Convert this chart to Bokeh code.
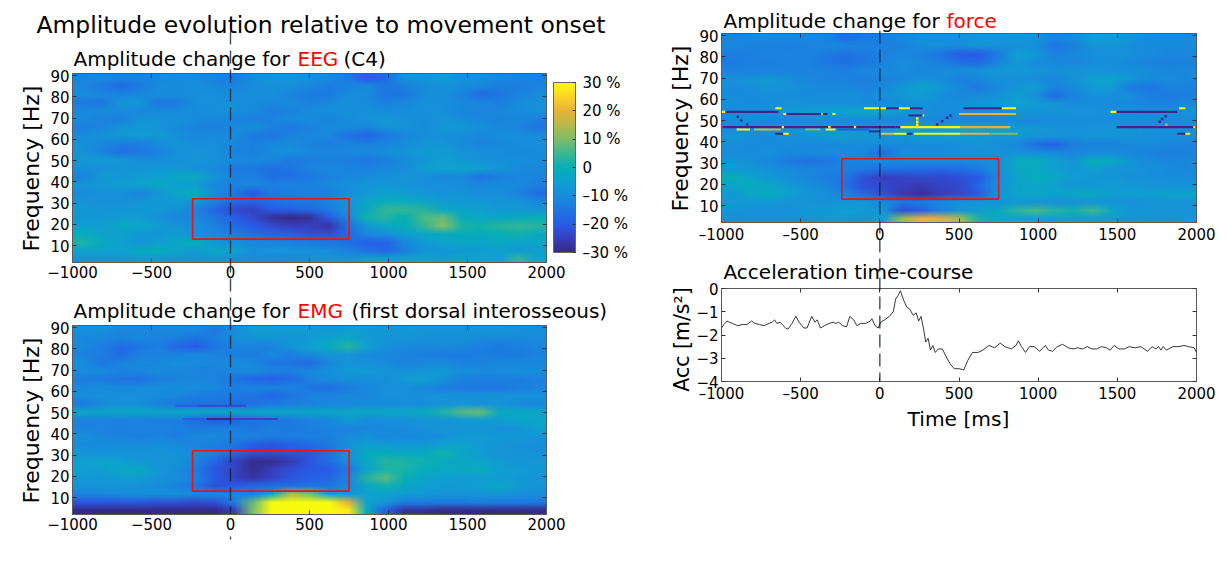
import base64
import math
import struct
import zlib
import numpy as np
from bokeh.embed import file_html
from bokeh.resources import INLINE
from bokeh.plotting import figure
from bokeh.models import (ColorBar, ColumnDataSource, FixedTicker, Label,
                          LinearAxis, LinearColorMapper, Range1d)
from bokeh.transform import transform

time_ticks = [-1000, -500, 0, 500, 1000, 1500, 2000]
freq_ticks = [10, 20, 30, 40, 50, 60, 70, 80, 90]
acc_ticks = [-4, -3, -2, -1, 0]
cbar_ticks = [-30, -20, -10, 0, 10, 20, 30]
cbar_labels = ["–30 %", "–20 %", "–10 %", "0", "10 %", "20 %", "30 %"]
box_t = [-240, 750]
box_f = [13, 32]

eeg_rows = [
 [-12,-11,-12,-12,-11,-10,-10,-12,-14,-9,-8,-8,-9,-11,-14,-20,-17,-8,-8,-6,-9,-9,-11,-12,-13],
 [-11,-14,-17,-14,-10,-10,-9,-11,-12,-10,-9,-9,-11,-13,-12,-11,-14,-13,-10,-9,-9,-11,-13,-13,-12],
 [-10,-11,-12,-11,-10,-10,-9,-9,-10,-9,-9,-12,-14,-14,-10,-10,-15,-15,-10,-9,-12,-17,-15,-12,-10],
 [-14,-15,-8,-7,-15,-14,-9,-9,-9,-10,-11,-10,-12,-11,-9,-10,-13,-11,-9,-9,-11,-11,-13,-10,-9],
 [-11,-10,-10,-11,-11,-10,-10,-9,-9,-10,-13,-12,-10,-9,-9,-9,-10,-10,-9,-9,-11,-12,-11,-10,-9],
 [-10,-12,-13,-9,-8,-9,-10,-11,-12,-13,-12,-10,-10,-12,-10,-8,-7,-9,-10,-8,-10,-11,-12,-11,-13],
 [-13,-12,-8,-7,-8,-10,-12,-13,-11,-9,-12,-14,-12,-10,-10,-11,-8,-8,-10,-7,-7,-9,-11,-12,-15],
 [-10,-8,-7,-6,-7,-9,-11,-10,-10,-14,-15,-12,-11,-11,-16,-18,-15,-11,-9,-9,-10,-11,-10,-9,-10],
 [-9,-11,-13,-13,-10,-8,-10,-9,-11,-13,-11,-10,-12,-13,-12,-13,-12,-10,-8,-8,-10,-12,-11,-10,-9],
 [-8,-12,-16,-15,-12,-9,-8,-9,-12,-13,-10,-9,-11,-11,-11,-10,-9,-8,-7,-6,-8,-9,-10,-11,-10],
 [-7,-6,-7,-9,-10,-9,-8,-9,-10,-11,-11,-14,-13,-12,-13,-15,-13,-10,-8,-5,-7,-9,-9,-9,-10],
 [-9,-9,-8,-8,-7,-7,-9,-10,-14,-14,-16,-15,-12,-11,-12,-12,-11,-10,-6,-5,-4,-5,-8,-10,-11],
 [-12,-7,-7,-6,-5,-3,-2,-8,-13,-13,-16,-16,-14,-12,-11,-10,-9,-8,-9,-11,-11,-15,-13,-11,-12],
 [-8,-7,-6,-4,-3,-5,-6,-11,-12,-11,-13,-12,-13,-11,-9,-8,-7,-8,-9,-9,-10,-11,-10,-11,-13],
 [-10,-9,-9,-12,-8,-3,-1,-10,-15,-20,-14,-13,-12,-13,-9,-7,-5,-6,-7,-9,-8,-10,-9,-12,-17],
 [-8,-9,-9,-8,-7,-6,-6,-12,-17,-18,-16,-14,-14,-12,-8,-4,-1,-1,-4,-6,-7,-7,-8,-8,-11],
 [-7,-8,-8,-7,-7,-9,-12,-18,-23,-24,-20,-19,-17,-14,-8,-2,4,4,3,-3,-4,-5,-7,-7,-8],
 [-7,-7,-6,-6,-9,-11,-11,-15,-19,-23,-28,-31,-28,-20,-11,1,3,0,6,8,-1,-3,-3,-2,0],
 [-5,-6,-3,-3,-6,-8,-9,-12,-17,-20,-23,-25,-25,-27,-16,-7,-3,-1,4,11,2,1,3,4,3],
 [-1,-4,-5,-7,-7,-6,-9,-11,-13,-16,-18,-19,-22,-22,-17,-11,-9,-5,-3,-2,-1,-1,0,1,-2],
 [2,-1,-5,-8,-6,-3,0,-7,-10,-11,-12,-13,-14,-15,-16,-19,-18,-11,-7,-4,-3,-3,-2,-4,-3],
 [-4,-4,-5,-2,-1,-4,-6,-3,-5,-9,-8,-8,-9,-10,-12,-16,-18,-13,-8,-7,-7,-6,-5,-7,-6],
 [-8,-8,-8,-7,-7,-8,-8,-7,-9,-10,-11,-10,-9,-8,-8,-6,-4,-5,-5,-6,-3,-3,-4,4,-2],
]

emg_rows = [
 [-9,-9,-11,-11,-11,-10,-11,-14,-10,-6,-6,-6,-6,-7,-6,-6,-7,-7,-8,-8,-8,-8,-8,-9,-9],
 [-11,-11,-12,-11,-12,-13,-15,-13,-9,-8,-7,-8,-6,-5,-3,-6,-8,-8,-9,-9,-9,-10,-10,-10,-10],
 [-11,-13,-17,-15,-13,-18,-20,-15,-12,-12,-12,-8,-5,-1,3,-5,-9,-10,-11,-10,-11,-13,-14,-13,-12],
 [-12,-13,-17,-13,-12,-12,-11,-12,-13,-14,-11,-13,-10,-8,-8,-10,-11,-12,-13,-14,-14,-13,-14,-14,-12],
 [-9,-15,-12,-11,-11,-9,-10,-11,-10,-11,-15,-15,-17,-11,-8,-9,-10,-12,-11,-10,-12,-12,-11,-11,-11],
 [-10,-10,-12,-11,-10,-11,-12,-12,-11,-10,-12,-13,-11,-9,-7,-6,-8,-9,-8,-7,-9,-10,-10,-9,-9],
 [-13,-14,-15,-16,-13,-12,-11,-12,-15,-18,-19,-17,-12,-10,-9,-9,-9,-6,-5,-8,-12,-13,-13,-13,-12],
 [-11,-10,-11,-10,-10,-9,-10,-11,-13,-12,-12,-12,-15,-16,-14,-11,-9,-9,-11,-13,-14,-15,-15,-13,-12],
 [-9,-9,-9,-9,-10,-11,-13,-14,-14,-15,-18,-15,-12,-12,-11,-11,-9,-9,-9,-8,-9,-9,-8,-9,-9],
 [-14,-11,-9,-9,-12,-15,-16,-15,-16,-16,-14,-13,-12,-11,-11,-10,-10,-10,-9,-9,-8,-9,-8,-10,-11],
 [-3,-3,-3,-3,-3,-3,-3,-3,-3,-3,-3,-3,-3,-3,-3,-3,-3,-3,-2,2,7,8,-2,-3,-3],
 [-12,-12,-12,-12,-13,-13,-16,-20,-18,-16,-15,-14,-12,-11,-7,-10,-9,-9,-8,-8,-7,-6,-6,-4,-3],
 [-12,-12,-13,-12,-12,-13,-14,-13,-13,-15,-13,-14,-13,-12,-12,-11,-11,-10,-9,-8,-8,-8,-9,-8,-5],
 [-9,-11,-12,-13,-12,-13,-11,-11,-12,-12,-14,-13,-13,-13,-10,-9,-11,-11,-10,-9,-7,-6,-7,-7,-8],
 [-10,-10,-9,-10,-9,-10,-12,-13,-15,-20,-21,-19,-17,-14,-9,-5,-6,-7,-7,-5,-4,-6,-8,-9,-10],
 [-8,-9,-8,-8,-8,-9,-10,-13,-18,-22,-22,-21,-21,-16,-9,-1,-1,-3,-2,1,-3,-6,-8,-8,-9],
 [-5,-4,-5,-7,-8,-8,-12,-18,-24,-29,-29,-26,-21,-16,-10,-2,3,2,1,-1,-3,-4,-6,-8,-8],
 [-5,-6,-3,-2,-7,-10,-14,-21,-24,-29,-25,-22,-20,-20,-14,-4,2,2,-1,-2,-2,-1,-5,-6,-7],
 [-7,-7,-6,-6,-8,-10,-13,-20,-24,-27,-24,-21,-19,-18,-12,3,7,0,-4,-5,-6,-6,-6,-7,-8],
 [-8,-8,-8,-9,-10,-12,-15,-22,-20,-18,-16,-16,-15,-15,-11,-3,1,-3,-5,-6,-6,-5,-3,-6,-8],
 [-12,-11,-10,-9,-9,-9,-10,-10,-11,-12,-2,15,10,-5,-7,-5,-4,-6,-7,-8,-8,-8,-8,-9,-10],
 [-21,-21,-21,-21,-22,-22,-23,-22,-14,8,30,32,30,32,20,-4,-8,-14,-14,-14,-14,-13,-14,-14,-15],
 [-31,-31,-31,-31,-31,-31,-31,-31,-25,10,36,40,40,36,28,-2,-20,-28,-28,-30,-30,-30,-30,-30,-30],
]

force_rows = [
 [-12,-11,-11,-11,-11,-12,-17,-15,-13,-11,-9,-9,-9,-8,-8,-7,-8,-12,-10,-5,-6,-8,-10,-10,-10],
 [-11,-12,-12,-13,-12,-11,-11,-12,-13,-12,-10,-9,-10,-8,-9,-9,-9,-15,-13,-8,-8,-9,-10,-11,-10],
 [-13,-13,-12,-12,-12,-14,-16,-14,-12,-11,-12,-15,-20,-20,-14,-5,-7,-12,-11,-9,-9,-9,-10,-11,-11],
 [-14,-13,-13,-12,-12,-15,-16,-15,-12,-10,-11,-13,-16,-17,-12,-7,-10,-11,-12,-10,-9,-11,-12,-13,-12],
 [-12,-12,-12,-12,-12,-12,-13,-11,-11,-10,-11,-10,-9,-9,-7,-7,-8,-9,-8,-8,-9,-9,-10,-11,-11],
 [-9,-8,-7,-9,-11,-12,-12,-13,-12,-11,-9,-10,-13,-11,-9,-9,-10,-11,-9,-5,-4,-7,-10,-10,-11],
 [-10,-9,-8,-8,-10,-11,-11,-12,-11,-7,-4,-7,-11,-14,-10,-8,-6,-12,-10,-6,-6,-14,-15,-12,-12],
 [-10,-10,-9,-10,-10,-10,-9,-10,-9,-7,-6,-9,-11,-10,-9,-6,-9,-17,-12,-9,-9,-10,-13,-14,-13],
 [-9,-10,-10,-8,-9,-9,-9,-10,-11,-10,-9,-9,-9,-8,-7,-4,-6,-8,-10,-10,-10,-11,-12,-12,-11],
 [-10,-9,-9,-7,-5,-5,-4,-3,-4,-7,-8,-10,-10,-10,-9,-8,-8,-8,-8,-8,-9,-9,-10,-9,-8],
 [-10,-10,-11,-11,-10,-10,-10,-10,-11,-11,-11,-11,-11,-11,-11,-11,-11,-11,-10,-10,-10,-10,-10,-10,-10],
 [-10,-10,-9,-8,-7,-7,-6,-7,-6,-5,-5,-4,-4,-4,-5,-6,-7,-8,-9,-8,-7,-8,-9,-9,-9],
 [-8,-9,-10,-9,-8,-7,-6,-7,-8,-7,-6,-6,-6,-7,-8,-7,-8,-8,-9,-8,-8,-8,-9,-9,-9],
 [-9,-10,-10,-10,-11,-11,-10,-10,-10,-11,-10,-10,-9,-8,-9,-11,-16,-19,-13,-12,-12,-11,-10,-11,-12],
 [-10,-10,-9,-11,-10,-10,-10,-12,-17,-10,-10,-10,-9,-9,-9,-8,-9,-10,-11,-10,-10,-11,-12,-13,-12],
 [-8,-9,-11,-14,-16,-15,-12,-11,-10,-10,-10,-10,-10,-10,-10,-1,0,-5,-8,0,-2,-8,-10,-11,-11],
 [-7,-7,-9,-10,-11,-12,-13,-15,-16,-16,-17,-18,-17,-14,-9,-3,-2,-5,-7,-5,-8,-8,-9,-10,-11],
 [0,-4,-7,-9,-11,-13,-15,-22,-25,-24,-23,-23,-22,-20,-10,-4,-1,-3,-6,-7,-8,-9,-9,-10,-10],
 [-4,-2,-3,-6,-9,-11,-16,-22,-23,-25,-26,-24,-23,-18,-9,-4,-3,-5,-7,-7,-6,-7,-8,-8,-8],
 [-7,-3,-1,-5,-8,-9,-12,-17,-22,-26,-28,-25,-23,-20,-8,-4,-3,-4,-3,-2,-6,-5,-5,-4,-4],
 [-6,-7,-7,-8,-8,-9,-8,-8,-11,-15,-14,-11,-9,-8,-8,-7,-8,-9,-9,-8,-8,-9,-8,-8,-8],
 [-8,-9,-9,-9,-7,-6,-5,-6,-8,-22,-19,-12,-8,-6,-2,3,6,3,1,5,-3,-7,-8,-8,-8],
 [-9,-9,-9,-9,-8,-7,-7,-8,-5,12,20,18,14,2,-2,-3,-4,-5,-6,-6,-6,-8,-8,-8,-7],
]

# thin artefact lines of the force panel: frequency, start, end, value
force_line_f = [55.8,55.8,55.8,55.8,55.8,55.8,55.8,55.8, 54.1,54.1,54.1,54.1, 53.1,53.1,53.1,53.1,53.1,52.4,52.4,53.1,
                46.9,46.9,46.9,46.9,46.9,46.9,46.9,46.9,46.9,46.9, 45.8,45.8,45.8,45.8,45.8, 44.9,
                43.8,43.8,43.8,43.8,43.8,43.8,43.8,43.8,43.8,43.8]
force_line_a = [-660,-100,40,120,190,530,770,1890, -1000,-975,1457,1495, -610,-590,-370,-360,-300,180,270,500,
                -996,-620,-326,-164,100,130,510,1495,1980,-1000, -905,-795,-343,-470,-270, -70,
                -660,-610,5,90,170,215,510,690,1878,1930]
force_line_b = [-620,40,120,190,270,770,860,1930, -975,-640,1495,1878, -590,-370,-360,-330,-280,270,280,860,
                100,-605,-311,-150,130,510,825,1990,1990,-996, -820,-625,-280,-375,-70, 0,
                -610,-575,90,170,205,510,690,870,1930,1960]
force_line_v = [30,30,-30,30,-30,-30,30,30, 30,-30,30,-30, 30,-30,30,-30,30,-30,30,20,
                -30,30,30,30,-30,30,18,-30,30,30, 30,17,30,10,-20, -28,
                -30,30,22,30,-30,30,20,10,-30,30]
# small diagonal dashes between the force lines
force_tick_t = [-897,-875,-838,236,236,236,362,394,425,446,1805,1783,1767,1810]
force_tick_f = [51.8,50,48.1,48,49.5,51,48.1,49.7,51.3,52.4,52,50.7,49.4,48]
force_tick_v = [-30,-30,-30,30,30,30,-30,-30,-30,-30,-30,-30,-30,12]

emg_line_f = [47,47,47,53.2,53.2]
emg_line_a = [-300,-150,0,-350,-200]
emg_line_b = [-150,0,300,-200,100]
emg_line_v = [-20,-31,-24,-20,-23]

acc_t = [-1000,-985,-965,-950,-930,-900,-870,-840,-810,-790,-760,-730,-700,-680,-665,-650,-630,-610,-595,-580,
         -555,-530,-510,-480,-460,-430,-410,-395,-375,-350,-320,-295,-280,-260,-235,-210,-190,-165,-145,-120,
         -90,-60,-50,-30,-10,5,30,60,85,100,115,130,150,170,190,210,230,245,260,275,290,305,320,335,350,370,395,
         420,445,470,500,530,555,585,620,650,690,725,760,790,830,860,875,895,920,945,975,1010,1045,1065,1090,
         1120,1155,1190,1220,1250,1280,1310,1340,1370,1400,1430,1455,1480,1510,1545,1575,1610,1650,1690,1720,
         1745,1760,1775,1790,1810,1850,1890,1920,1950,1985,2000]
acc_v = [-1.7,-1.55,-1.4,-1.45,-1.5,-1.6,-1.55,-1.55,-1.4,-1.5,-1.55,-1.6,-1.5,-1.45,-1.35,-1.5,-1.45,-1.6,-1.7,-1.75,
         -1.5,-1.2,-1.45,-1.7,-1.7,-1.2,-1.45,-1.35,-1.7,-1.6,-1.5,-1.45,-1.5,-1.45,-1.6,-1.65,-1.2,-1.35,-1.6,-1.5,
         -1.5,-1.4,-1.3,-1.6,-1.7,-1.45,-1.35,-1.2,-1.0,-0.45,-0.3,-0.1,-0.5,-0.8,-0.9,-1.15,-1.05,-1.4,-1.2,-1.7,-2.3,-2.15,-2.65,-2.45,-2.75,-2.6,-2.6,
         -2.95,-3.25,-3.45,-3.45,-3.5,-3.1,-2.75,-2.75,-2.65,-2.45,-2.55,-2.35,-2.5,-2.6,-2.45,-2.25,-2.5,-2.75,-2.5,-2.5,-2.7,-2.45,-2.65,-2.7,
         -2.5,-2.4,-2.55,-2.6,-2.55,-2.6,-2.5,-2.6,-2.6,-2.5,-2.55,-2.65,-2.45,-2.6,-2.6,-2.5,-2.55,-2.5,-2.7,-2.5,
         -2.6,-2.5,-2.65,-2.5,-2.65,-2.5,-2.5,-2.45,-2.5,-2.55,-2.75]

stops_v = [-30, -25, -20, -15, -10, -5, 0, 5, 10, 15, 20, 25, 30]
stops_c = [(53,42,135),(56,62,190),(40,92,232),(30,118,226),(24,140,220),(15,160,208),(5,175,182),
           (60,184,144),(125,189,106),(181,185,74),(232,178,58),(251,210,40),(249,251,14)]
grid = np.linspace(-30, 30, 256)
palette_rgb = [tuple(int(round(np.interp(g, stops_v, [c[i] for c in stops_c]))) for i in range(3)) for g in grid]
palette = ["#%02x%02x%02x" % c for c in palette_rgb]
mapper = LinearColorMapper(palette=palette, low=-30, high=30)

def level(v):
    return min(255, max(0, int((v + 30) / 60 * 256)))

def rows_to_png(rows):
    """One pixel per estimated cell; the browser's image scaling gives the soft shading of the original."""
    h, w = len(rows), len(rows[0])
    raw = b"".join(b"\x00" + bytes(ch for v in r for ch in palette_rgb[level(v)]) for r in rows)
    def chunk(tag, data):
        return struct.pack(">I", len(data)) + tag + data + struct.pack(">I", zlib.crc32(tag + data))
    png = (b"\x89PNG\r\n\x1a\n" + chunk(b"IHDR", struct.pack(">IIBBBBB", w, h, 8, 2, 0, 0, 0))
           + chunk(b"IDAT", zlib.compress(raw)) + chunk(b"IEND", b""))
    return "data:image/png;base64," + base64.b64encode(png).decode()

FONT = "DejaVu Sans"
W, H = 1222, 552
T0, T1 = -1000, 2000
F0, F1_ = 2, 91

# one page-sized figure: its default ranges are page pixels, each panel has its own extra ranges
p = figure(output_backend="svg", toolbar_location=None, width=W, height=H, x_range=Range1d(0, W), y_range=Range1d(H, 0),
           min_border=0, outline_line_color=None, background_fill_color="white", border_fill_color="white",
           x_axis_type=None, y_axis_type=None)
p.xgrid.visible = False
p.ygrid.visible = False

def panel(name, L, T, R, B, yr, yticks, en=False):
    sx = (T1 - T0) / (R - L)
    sy = (yr[1] - yr[0]) / (B - T)
    p.extra_x_ranges[name] = Range1d(T0 - L * sx, T1 + (W - R) * sx)
    p.extra_y_ranges[name] = Range1d(yr[0] - (H - B) * sy, yr[1] + T * sy)
    common = dict(x_range_name=name, y_range_name=name, axis_line_color="#5a5a5a", major_tick_line_color="#333333",
                  minor_tick_in=0, minor_tick_out=0, major_label_text_font=FONT, major_label_text_font_size="15px",
                  major_label_text_color="black", major_tick_in=4, major_tick_out=0)
    xb = LinearAxis(ticker=FixedTicker(ticks=time_ticks), fixed_location=yr[0], bounds=(T0, T1), major_label_standoff=3, **common)
    if en:
        xb.major_label_overrides = {t: str(t).replace("-", "–") for t in time_ticks}
    yl = LinearAxis(ticker=FixedTicker(ticks=yticks), fixed_location=T0, bounds=tuple(yr), major_label_standoff=3, **common)
    hidden = dict(common, major_label_text_color=None, major_label_text_font_size="1px")
    xt = LinearAxis(ticker=FixedTicker(ticks=time_ticks), fixed_location=yr[1], bounds=(T0, T1), **hidden)
    yr_ax = LinearAxis(ticker=FixedTicker(ticks=yticks), fixed_location=T1, bounds=tuple(yr), **hidden)
    p.add_layout(xb, "below")
    p.add_layout(yl, "left")
    p.add_layout(xt, "above")
    p.add_layout(yr_ax, "right")

def heat(name, rows, lf=None, la=None, lb=None, lv=None, th=1.0):
    p.image_url(url=[rows_to_png(rows)], x=T0, y=F1_, w=T1 - T0, h=F1_ - F0, anchor="top_left",
                x_range_name=name, y_range_name=name)
    if lf is not None:
        f = np.array(lf, dtype=float)
        src = ColumnDataSource(dict(left=la, right=lb, top=f + th / 2, bottom=f - th / 2, v=lv))
        p.quad(left="left", right="right", top="top", bottom="bottom", source=src, fill_color=transform("v", mapper),
               line_color=None, x_range_name=name, y_range_name=name)

def redbox(name):
    p.quad(left=[box_t[0]], right=[box_t[1]], bottom=[box_f[0]], top=[box_f[1]], fill_color=None, line_color="#e8141c",
           line_width=1.6, x_range_name=name, y_range_name=name)

def vdash(name, py0, py1):
    p.segment(x0=[0], x1=[0], y0=[py0], y1=[py1], x_range_name=name, line_color="#10202c", line_width=1.4,
              line_alpha=0.8, line_dash="13 6", level="overlay")

def put(px, py, text, size="20px", color="black", angle=0, align="left"):
    p.add_layout(Label(x=px, y=py, text=text, text_font=FONT, text_font_size=size, text_color=color, angle=angle,
                       text_align=align, text_baseline="middle"))

panel("eeg", 72, 73, 546, 262, (F0, F1_), freq_ticks)
panel("emg", 72, 325, 546, 514, (F0, F1_), freq_ticks)
panel("force", 721, 33, 1196, 222, (F0, F1_), freq_ticks, en=True)
panel("acc", 721, 288, 1196, 381, (-4, 0), acc_ticks, en=True)

heat("eeg", eeg_rows)
heat("emg", emg_rows, emg_line_f, emg_line_a, emg_line_b, emg_line_v, 0.9)
heat("force", force_rows, force_line_f, force_line_a, force_line_b, force_line_v, 1.0)
p.scatter(force_tick_t, force_tick_f, marker="square", size=2.5, line_color=None, x_range_name="force", y_range_name="force",
          fill_color=[palette[level(v)] for v in force_tick_v])
p.line(acc_t, acc_v, line_color="#222222", line_width=0.9, x_range_name="acc", y_range_name="acc")
for nm in ("eeg", "emg", "force"):
    redbox(nm)

vdash("eeg", 31, 512)
vdash("eeg", 536, 539)
vdash("force", 30, 381)

put(36, 24, "Amplitude evolution relative to movement onset", "23.4px")
put(73, 58, "Amplitude change for")
put(297, 58, "EEG", color="#ff0000")
put(343, 58, "(C4)")
put(31, 168, "Frequency [Hz]", "22px", angle=math.pi / 2, align="center")
put(73, 310, "Amplitude change for")
put(297, 310, "EMG", color="#ff0000")
put(351, 310, "(first dorsal interosseous)")
put(31, 420, "Frequency [Hz]", "22px", angle=math.pi / 2, align="center")
put(723, 20, "Amplitude change for")
put(946, 20, "force", color="#ff0000")
put(680, 128, "Frequency [Hz]", "22px", angle=math.pi / 2, align="center")
put(723, 271, "Acceleration time-course")
put(681, 339, "Acc [m/s²]", "20.5px", angle=math.pi / 2, align="center")
put(958, 418, "Time [ms]", "20.2px", align="center")

cb = ColorBar(color_mapper=mapper, ticker=FixedTicker(ticks=cbar_ticks),
              major_label_overrides=dict(zip(cbar_ticks, cbar_labels)), location=(553, H - 252),
              width=22, height=170, padding=0, margin=0, major_tick_in=3, major_tick_line_color="#333333",
              major_label_text_font=FONT, major_label_text_font_size="15px", major_label_text_color="black",
              label_standoff=7, bar_line_color="#666666", background_fill_color=None, border_line_color=None)
p.add_layout(cb, "center")

open("out.html", "w").write(file_html(p, INLINE))
